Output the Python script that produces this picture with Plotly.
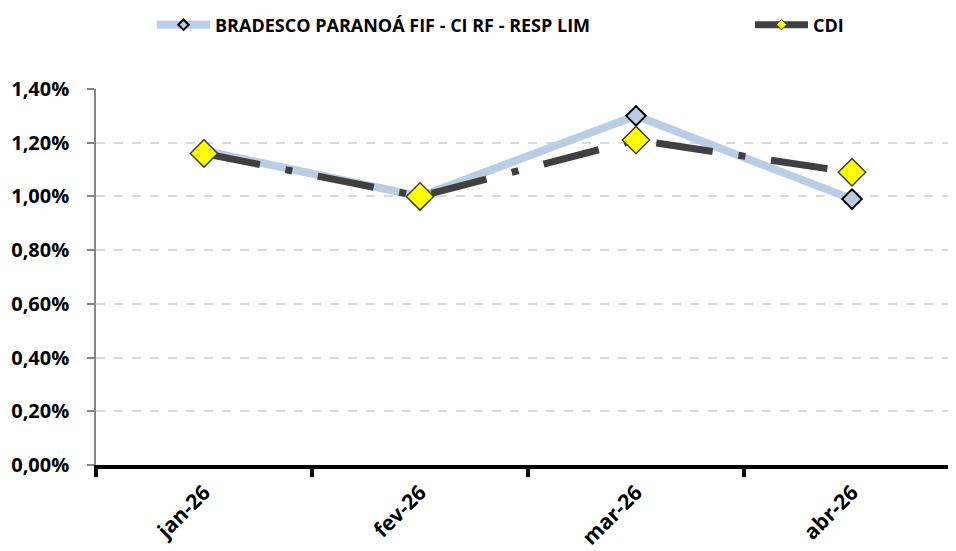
import plotly.graph_objects as go

meses = ["jan-26", "fev-26", "mar-26", "abr-26"]
fundo = [1.17, 1.00, 1.30, 0.99]
cdi = [1.16, 1.00, 1.21, 1.09]
y_ticks = [0.0, 0.2, 0.4, 0.6, 0.8, 1.0, 1.2, 1.4]
y_labels = [f"{v:.2f}%".replace(".", ",") for v in y_ticks]

nome_fundo = "BRADESCO PARANOÁ FIF - CI RF - RESP LIM"
nome_cdi = "CDI"

AZUL = "#b9cde5"
CINZA = "#404040"
AMARELO = "#ffff00"
FONTE = "Open Sans"

# a página tem margem de 8px no body, por isso a figura é 8px menor
W, H = 948, 543

fig = go.Figure()

fig.add_trace(go.Scatter(
    x=meses, y=fundo, mode="lines+markers", name=nome_fundo, showlegend=False,
    line=dict(color=AZUL, width=8),
    marker=dict(symbol="diamond", size=15, color=AZUL, line=dict(color="black", width=2)),
))
fig.add_trace(go.Scatter(
    x=meses, y=cdi, mode="lines+markers", name=nome_cdi, showlegend=False,
    line=dict(color=CINZA, width=7, dash="57px,26px,7px,26px"),
    marker=dict(symbol="diamond", size=21, color=AMARELO, line=dict(color=CINZA, width=1.5)),
))

# entradas da legenda (marcadores menores, como no Excel)
fig.add_trace(go.Scatter(
    x=[None], y=[None], mode="lines+markers", name=nome_fundo, legend="legend",
    line=dict(color=AZUL, width=8),
    marker=dict(symbol="diamond", size=8, color=AZUL, line=dict(color="black", width=2)),
))
fig.add_trace(go.Scatter(
    x=[None], y=[None], mode="lines+markers", name=nome_cdi, legend="legend2",
    line=dict(color=CINZA, width=7),
    marker=dict(symbol="diamond", size=8, color=AMARELO, line=dict(color=CINZA, width=1)),
))

leg = dict(
    orientation="h", xref="container", yref="container",
    y=1 - 17 / H, xanchor="left", yanchor="middle", itemwidth=53,
    font=dict(family=FONTE, size=18, color="black", weight="bold"),
    bgcolor="rgba(0,0,0,0)",
)

fig.update_layout(
    width=W, height=H,
    margin=dict(l=88, r=0, t=81, b=86),
    paper_bgcolor="white", plot_bgcolor="white",
    font=dict(family=FONTE, color="black"),
    legend=dict(leg, x=144 / W),
    legend2=dict(leg, x=742 / W),
    xaxis=dict(
        range=[-0.5, -0.5 + 860 / 216], automargin=False,
        showgrid=False, zeroline=False,
        showline=True, linecolor="black", linewidth=4,
        ticks="outside", tickson="boundaries", ticklen=8, tickwidth=4, tickcolor="black",
        tickangle=-45, ticklabelstandoff=3,
        tickfont=dict(family=FONTE, size=21, color="black", weight="bold"),
    ),
    yaxis=dict(
        range=[0, 1.4], tickvals=y_ticks, ticktext=y_labels, automargin=False,
        showgrid=True, gridcolor="#d9d9d9", gridwidth=1.5, griddash="dash",
        zeroline=False,
        showline=True, linecolor="#868686", linewidth=1.5,
        ticks="outside", ticklen=7, tickwidth=1.5, tickcolor="#868686",
        ticklabelstandoff=14,
        tickfont=dict(family=FONTE, size=20, color="black", weight="bold"),
    ),
)

fig.write_html("out.html")
